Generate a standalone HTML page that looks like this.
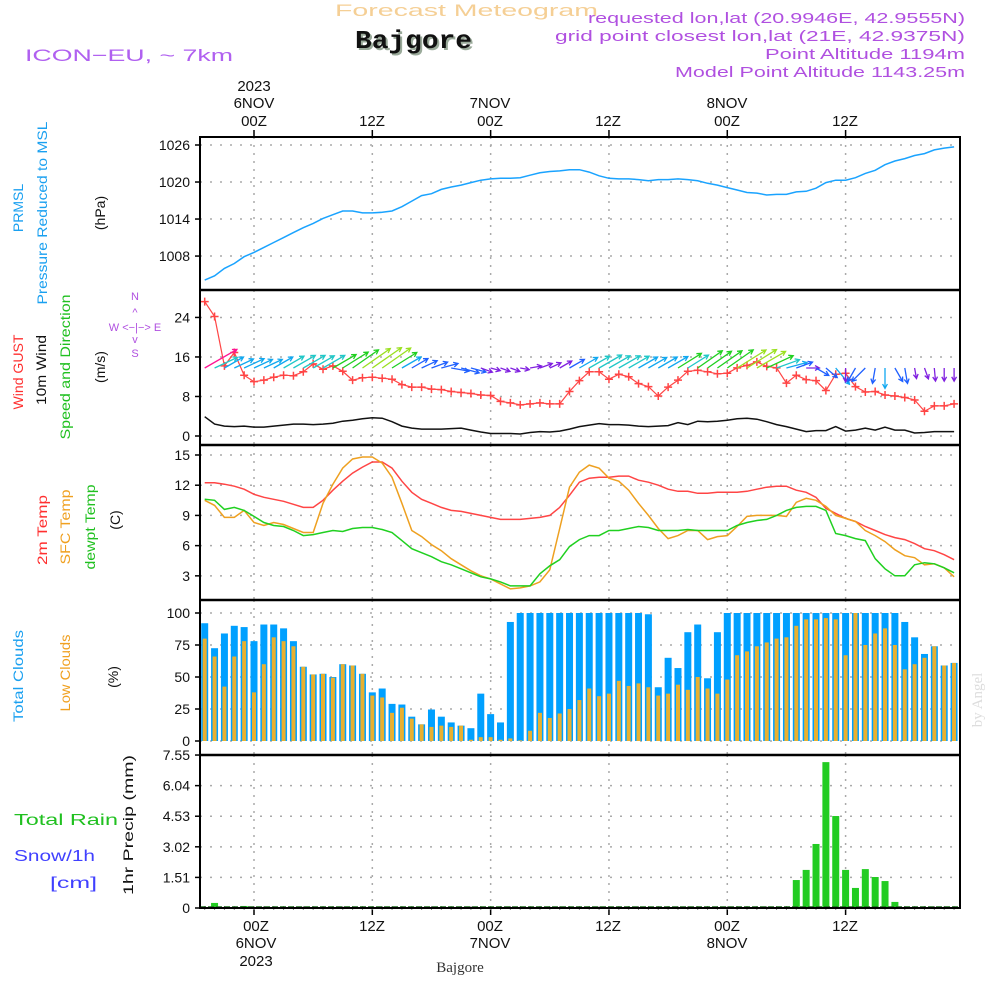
<!DOCTYPE html>
<html><head><meta charset="utf-8"><style>
html,body{margin:0;padding:0;background:#fff;}
svg{display:block;font-family:"Liberation Sans",sans-serif;}
</style></head><body>
<svg id="chart" xmlns="http://www.w3.org/2000/svg" width="1000" height="1000" viewBox="0 0 1000 1000">
<rect x="0" y="0" width="1000" height="1000" fill="#fff"/>
<text x="335" y="16" font-size="17" fill="#f5cf95" textLength="263" lengthAdjust="spacingAndGlyphs">Forecast Meteogram</text>
<text x="357" y="50" font-size="26" font-weight="bold" font-family="Liberation Mono, monospace" fill="#9aaa9a" textLength="117" lengthAdjust="spacingAndGlyphs">Bajgore</text>
<text x="355" y="48" font-size="26" font-weight="bold" font-family="Liberation Mono, monospace" fill="#111" textLength="117" lengthAdjust="spacingAndGlyphs">Bajgore</text>
<text x="25" y="61" font-size="17" fill="#b060f0" textLength="208" lengthAdjust="spacingAndGlyphs">ICON−EU, ~ 7km</text>
<text x="965" y="23" font-size="15" fill="#b050e0" text-anchor="end" textLength="377" lengthAdjust="spacingAndGlyphs">requested lon,lat (20.9946E, 42.9555N)</text>
<text x="965" y="41" font-size="15" fill="#b050e0" text-anchor="end" textLength="410" lengthAdjust="spacingAndGlyphs">grid point closest lon,lat (21E, 42.9375N)</text>
<text x="965" y="59" font-size="15" fill="#b050e0" text-anchor="end" textLength="200" lengthAdjust="spacingAndGlyphs">Point Altitude 1194m</text>
<text x="965" y="77" font-size="15" fill="#b050e0" text-anchor="end" textLength="290" lengthAdjust="spacingAndGlyphs">Model Point Altitude 1143.25m</text>

<g font-size="15" fill="#111" text-anchor="middle">
<text x="254" y="91">2023</text>
<text x="254" y="108">6NOV</text>
<text x="254" y="126">00Z</text>
<text x="372" y="126">12Z</text>
<text x="490" y="108">7NOV</text>
<text x="490" y="126">00Z</text>
<text x="608" y="126">12Z</text>
<text x="727" y="108">8NOV</text>
<text x="727" y="126">00Z</text>
<text x="845" y="126">12Z</text>
</g>
<g font-size="15" fill="#111" text-anchor="middle">
<text x="256" y="931">00Z</text>
<text x="256" y="948">6NOV</text>
<text x="256" y="966">2023</text>
<text x="372" y="931">12Z</text>
<text x="490" y="931">00Z</text>
<text x="490" y="948">7NOV</text>
<text x="608" y="931">12Z</text>
<text x="727" y="931">00Z</text>
<text x="727" y="948">8NOV</text>
<text x="845" y="931">12Z</text>
</g>
<text x="460" y="972" font-size="15" font-family="Liberation Serif, serif" fill="#333" text-anchor="middle">Bajgore</text>

<g font-size="14" text-anchor="middle">
<text transform="translate(23,208) rotate(-90)" fill="#1aa0f0">PRMSL</text>
<text transform="translate(47,213) rotate(-90)" fill="#1aa0f0" textLength="183" lengthAdjust="spacingAndGlyphs">Pressure Reduced to MSL</text>
<text transform="translate(105,213) rotate(-90)" fill="#111">(hPa)</text>
<text transform="translate(23,372) rotate(-90)" fill="#ff3030" textLength="75" lengthAdjust="spacingAndGlyphs">Wind GUST</text>
<text transform="translate(46,370) rotate(-90)" fill="#111" textLength="70" lengthAdjust="spacingAndGlyphs">10m Wind</text>
<text transform="translate(70,367) rotate(-90)" fill="#20c020" textLength="145" lengthAdjust="spacingAndGlyphs">Speed and Direction</text>
<text transform="translate(105,367) rotate(-90)" fill="#111">(m/s)</text>
<text transform="translate(47,530) rotate(-90)" fill="#ff3030" textLength="70" lengthAdjust="spacingAndGlyphs">2m Temp</text>
<text transform="translate(70,527) rotate(-90)" fill="#f0a020" textLength="75" lengthAdjust="spacingAndGlyphs">SFC Temp</text>
<text transform="translate(95,527) rotate(-90)" fill="#20c020" textLength="85" lengthAdjust="spacingAndGlyphs">dewpt Temp</text>
<text transform="translate(120,520) rotate(-90)" fill="#111">(C)</text>
<text transform="translate(23,676) rotate(-90)" fill="#1aa0f0" textLength="92" lengthAdjust="spacingAndGlyphs">Total Clouds</text>
<text transform="translate(70,673) rotate(-90)" fill="#f0a020" textLength="77" lengthAdjust="spacingAndGlyphs">Low Clouds</text>
<text transform="translate(118,677) rotate(-90)" fill="#111">(%)</text>
<text transform="translate(133,825) rotate(-90)" fill="#111" textLength="140" lengthAdjust="spacingAndGlyphs">1hr Precip (mm)</text>
</g>
<text x="14" y="825" font-size="16" fill="#20c020" textLength="104" lengthAdjust="spacingAndGlyphs">Total  Rain</text>
<text x="14" y="861" font-size="16" fill="#4040ff" textLength="81" lengthAdjust="spacingAndGlyphs">Snow/1h</text>
<text x="50" y="888" font-size="16" fill="#4040ff" textLength="47" lengthAdjust="spacingAndGlyphs">[cm]</text>
<g font-size="11" fill="#b050e0" text-anchor="middle">
<text x="135" y="300">N</text>
<text x="135" y="316">^</text>
<text x="135" y="331">W  &lt;−|−&gt;  E</text>
<text x="135" y="343">v</text>
<text x="135" y="357">S</text>
</g>
<text transform="translate(982,700) rotate(-90)" font-size="15" font-family="Liberation Serif, serif" fill="#ddd" text-anchor="middle">by Angel</text>
<g id="plot"></g>
</svg>
<script>
// hours -5 .. 71 (relative to 00Z 6NOV)
const hourStart = -5;
const pressure = [1004.1,1004.8,1006.0,1006.8,1007.9,
1008.6,1009.4,1010.2,1011.0,1011.8,1012.6,1013.3,1014.1,1014.7,1015.3,
1015.3,1015.0,1015.0,1015.1,1015.3,1016.0,1016.9,1017.8,1018.1,1018.8,
1019.2,1019.5,1019.9,1020.3,1020.5,1020.6,1020.6,1020.7,1021.1,1021.5,
1021.7,1021.8,1022.0,1022.0,1021.6,1021.0,1020.6,1020.5,1020.5,1020.4,
1020.2,1020.4,1020.4,1020.5,1020.4,1020.2,1019.8,1019.5,1019.1,1018.7,
1018.3,1018.2,1017.9,1018.0,1018.0,1018.4,1018.5,1019.0,1019.9,1020.3,
1020.3,1020.7,1021.4,1021.9,1022.8,1023.4,1023.8,1024.3,1024.6,1025.2,
1025.5,1025.7];
const wind10 = [3.9,2.4,2.0,1.9,2.0,
1.8,1.8,2.0,2.2,2.4,2.4,2.3,2.4,2.6,3.0,
3.2,3.5,3.7,3.6,2.9,2.0,1.6,1.4,1.4,1.4,
1.5,1.6,1.2,0.8,0.5,0.5,0.5,0.4,0.7,0.9,
0.8,1.0,1.4,1.9,2.2,2.5,2.3,2.3,2.2,2.0,
1.9,2.0,2.1,2.7,2.3,3.0,2.9,3.0,3.2,3.5,
3.6,3.4,2.9,2.3,1.9,1.4,0.9,1.1,1.1,1.9,
1.0,1.2,1.6,1.2,1.8,1.2,1.2,0.6,0.7,0.9,
0.9,0.9];
const gust = [27.2,24.2,14.2,16.9,12.3,
11.0,11.3,11.9,12.3,12.2,13.0,14.6,13.5,14.2,13.1,
11.3,11.8,11.9,11.7,11.5,10.4,9.9,9.9,9.5,9.4,
9.0,8.8,8.6,8.3,8.2,7.0,6.7,6.3,6.5,6.7,
6.5,6.5,9.0,11.2,13.0,13.0,11.5,12.5,12.0,10.6,
10.0,8.1,9.9,11.3,13.1,13.3,13.0,12.6,12.7,13.8,
14.3,15.0,14.1,13.8,10.7,12.3,11.4,11.2,9.2,12.5,
12.7,10.0,8.9,9.0,8.3,8.1,7.8,7.3,5.0,6.1,
6.1,6.5];
const windDir = [240,245,240,245,245,
245,245,240,240,240,240,240,240,240,238,
235,235,235,235,238,240,240,245,250,255,
280,285,285,290,285,290,290,280,260,250,
245,240,240,240,240,240,240,240,240,240,
240,240,240,238,238,235,235,235,235,238,
238,240,245,250,255,250,270,300,310,320,
0,30,45,10,0,330,350,350,340,355,
0,0];
const temp2m = [12.25,12.25,12.1,11.9,11.6,
11.1,10.8,10.6,10.4,10.1,9.8,9.8,10.5,11.5,12.4,
13.2,13.8,14.3,14.3,13.7,12.4,11.3,10.6,10.2,9.8,
9.5,9.4,9.2,9.0,8.8,8.6,8.6,8.6,8.7,8.8,
9.0,9.8,11.0,12.3,12.7,12.8,12.8,12.9,12.9,12.5,
12.3,12.0,11.6,11.4,11.4,11.2,11.2,11.3,11.3,11.3,
11.4,11.6,11.8,11.9,11.9,11.5,11.3,10.8,9.7,9.2,
8.7,8.4,7.9,7.5,7.1,6.8,6.6,6.2,5.7,5.5,
5.1,4.6];
const tempSfc = [10.5,10.0,8.8,8.8,9.5,
8.3,8.0,8.3,8.1,7.7,7.3,7.3,10.2,12.1,13.7,
14.6,14.8,14.8,14.2,12.8,10.2,7.5,6.9,6.1,5.5,
4.7,4.1,3.5,3.0,2.7,2.2,1.7,1.8,2.0,2.4,
3.6,7.7,11.8,13.3,14.0,13.7,12.7,12.4,11.5,10.2,
9.0,7.7,6.7,7.0,7.5,7.5,6.6,6.9,7.0,7.9,
8.9,9.0,9.0,9.0,8.9,10.3,10.7,10.5,9.9,9.0,
8.7,8.4,7.5,7.0,6.4,5.6,5.0,4.8,4.1,4.2,
3.8,2.9];
const dewpt = [10.6,10.5,9.6,9.8,9.5,
8.9,8.3,8.0,7.9,7.5,7.0,7.1,7.3,7.5,7.4,
7.7,7.8,7.8,7.6,7.3,6.5,5.7,5.3,4.9,4.4,
4.1,3.7,3.3,2.9,2.7,2.4,2.0,2.0,2.0,3.2,
4.0,4.6,5.9,6.6,7.0,7.0,7.5,7.5,7.7,7.9,
7.8,7.5,7.5,7.5,7.6,7.5,7.5,7.5,7.5,8.0,
8.3,8.5,8.6,9.0,9.5,9.8,9.9,9.9,9.5,7.2,
7.0,6.7,6.5,4.7,3.7,3.0,3.0,4.1,4.3,4.2,
3.8,3.3];
const totalClouds = [92,72.5,84,90,89,
78,91,91,88,78,58,52,52.5,50,60,
59,52.5,38,41,29,28.5,19,13,24.6,19,
14.5,12,10,37,21,14.5,93,100,100,100,
100,100,100,100,100,100,100,100,100,100,
99,42,65,57,85,91,49,85,100,100,
100,100,100,100,100,100,100,100,100,100,
100,100,100,100,100,100,93,81,68,74,
59,61];
const lowClouds = [80,66,42.5,66,78,
38,60,81,78,74,58,52,52.5,49.5,60,
59,52.5,35.5,34,22,26,17.5,13,11,12,
11,12,1,3,3,1,2,0.5,8,22,
18,21.5,25,32,41,35,37,47,43,45,
42,35.5,37,44,40,50,41,37,48,67,
70,74,77,80,81,90,95,95,96,95,
67,100,75,84,88,75,56,60,65,74,
59,61];
// h-5..h-1
const precip = [0,0.25,0,0,0.1,
// h0..h49
0,0,0,0,0,0,0,0,0,0,
0,0,0,0,0,0,0,0,0,0,
0,0,0,0,0,0,0,0,0,0,
0,0,0,0,0,0,0,0,0,0,
0,0,0,0,0,0,0,0,0,0,
// h50..h54
0,0,0,0,0,
// h55..h65
1.38,1.88,3.16,7.2,4.54,1.88,0.99,1.92,1.53,1.33,0.3,
// h66..h71
0,0,0,0,0,0];
const pressureTicks = [1026,1020,1014,1008];
const windTicks = [24,16,8,0];
const tempTicks = [15,12,9,6,3];
const cloudTicks = [100,75,50,25,0];
const precipTicks = [7.55,6.04,4.53,3.02,1.51,0];
const gridHours = [0,12,24,36,48,60];

const NS = 'http://www.w3.org/2000/svg';
const plot = document.getElementById('plot');
function mk(tag, attrs, parent){
  const e = document.createElementNS(NS, tag);
  for (const k in attrs) e.setAttribute(k, attrs[k]);
  (parent || plot).appendChild(e);
  return e;
}
const X0 = 200, X1 = 960;
function xH(h){ return 254 + 9.86 * h; }
function yP(p){ return 145 + (1026 - p) * 6.17; }
function yW(v){ return 436 - 4.94 * v; }
function yT(t){ return 455 + (15 - t) * 10.07; }
function yC(c){ return 741 - c * 1.28; }
function yR(r){ return 908 - r * 20.26; }
function hourOf(i){ return hourStart + i; }

const panels = [
  {name:'pressure', top:137, bot:290, ticks:pressureTicks, y:yP},
  {name:'wind', top:290, bot:445, ticks:windTicks, y:yW},
  {name:'temperature', top:445, bot:600, ticks:tempTicks, y:yT},
  {name:'clouds', top:600, bot:755, ticks:cloudTicks, y:yC},
  {name:'precip', top:755, bot:908, ticks:precipTicks, y:yR}
];
const defs = mk('defs', {});
const cp = mk('clipPath', {id:'clipPlot'}, defs);
mk('rect', {x:X0, y:137, width:X1-X0, height:771}, cp);

panels.forEach(p => {
  p.ticks.forEach(t => {
    const yy = p.y(t);
    const g = mk('line', {x1:X0, x2:X1, y1:yy, y2:yy, stroke:'#aaa', 'stroke-width':1.5, 'stroke-dasharray':'2,8'});
    
    
    const tk = mk('line', {x1:X0-5, x2:X0, y1:yy, y2:yy, stroke:'#000', 'stroke-width':1.5});
    
    
    const lb = mk('text', {x:190, y:yy+5, 'font-size':14, 'text-anchor':'end', fill:'#111'});
    lb.textContent = String(t);
    
    
  });
  gridHours.forEach(h => {
    const xx = xH(h);
    const v = mk('line', {x1:xx, x2:xx, y1:p.top, y2:p.bot, stroke:'#aaa', 'stroke-width':1.5, 'stroke-dasharray':'2,6'});
    
    
  });
});
gridHours.forEach(h => {
  const t1 = mk('line', {x1:xH(h), x2:xH(h), y1:130, y2:137, stroke:'#000', 'stroke-width':1.5});
  
  
  const t2 = mk('line', {x1:xH(h), x2:xH(h), y1:908, y2:915, stroke:'#000', 'stroke-width':1.5});
  
  
});
for (let i = 0; i < precip.length; i++) {
  const xx = xH(hourOf(i));
  const mt = mk('line', {x1:xx, x2:xx, y1:906, y2:910, stroke:'#888', 'stroke-width':1});
  
  
}

const dataG = mk('g', {'clip-path':'url(#clipPlot)'});



function linePath(arr, yf){
  return arr.map((v,i) => (i ? 'L' : 'M') + xH(hourOf(i)).toFixed(1) + ',' + yf(v).toFixed(1)).join(' ');
}
const pl = mk('path', {d:linePath(pressure, yP), fill:'none', stroke:'#1aa3ff', 'stroke-width':1.5}, dataG);



const wl = mk('path', {d:linePath(wind10, yW), fill:'none', stroke:'#111', 'stroke-width':1.5}, dataG);


const gl = mk('path', {d:linePath(gust, yW), fill:'none', stroke:'#ff4545', 'stroke-width':1.2}, dataG);


gust.forEach((v,i) => {
  const cx = xH(hourOf(i)), cy = yW(v);
  const m = mk('path', {d:`M${cx-4},${cy}H${cx+4}M${cx},${cy-4}V${cy+4}`, stroke:'#ff4545', 'stroke-width':1.5}, dataG);
  
  
});
function arrowColor(v){
  if (v >= 3.85) return '#ff1493';
  if (v >= 3.3) return '#9be020';
  if (v >= 2.6) return '#20d020';
  if (v >= 2.2) return '#20c8c8';
  if (v >= 1.8) return '#10a8f0';
  if (v >= 1.1) return '#2060ff';
  return '#8020e0';
}
windDir.forEach((d,i) => {
  const v = wind10[i];
  const L = 6 + 8 * v;
  const toB = (d + 180) * Math.PI / 180;
  const ux = Math.sin(toB), uy = -Math.cos(toB);
  const tx = xH(hourOf(i)), ty = 368;
  const hx = tx + ux * L, hy = ty + uy * L;
  const a1 = Math.atan2(uy, ux);
  const hl = 5;
  const p1x = hx - hl * Math.cos(a1 - 0.5), p1y = hy - hl * Math.sin(a1 - 0.5);
  const p2x = hx - hl * Math.cos(a1 + 0.5), p2y = hy - hl * Math.sin(a1 + 0.5);
  const col = arrowColor(v);
  const ar = mk('path', {d:`M${tx.toFixed(1)},${ty}L${hx.toFixed(1)},${hy.toFixed(1)}M${p1x.toFixed(1)},${p1y.toFixed(1)}L${hx.toFixed(1)},${hy.toFixed(1)}L${p2x.toFixed(1)},${p2y.toFixed(1)}`, stroke:col, 'stroke-width':1.3, fill:'none'}, dataG);
  
  
});

const tr = mk('path', {d:linePath(temp2m, yT), fill:'none', stroke:'#ff4545', 'stroke-width':1.5}, dataG);


const ts = mk('path', {d:linePath(tempSfc, yT), fill:'none', stroke:'#eea020', 'stroke-width':1.5}, dataG);


const td = mk('path', {d:linePath(dewpt, yT), fill:'none', stroke:'#20d020', 'stroke-width':1.5}, dataG);



totalClouds.forEach((v,i) => {
  const cx = xH(hourOf(i));
  const b = mk('rect', {x:cx-3.5, y:yC(v), width:7, height:yC(0)-yC(v), fill:'#00a0ff'}, dataG);
  
  
});
lowClouds.forEach((v,i) => {
  const cx = xH(hourOf(i));
  const b = mk('rect', {x:cx-2, y:yC(v), width:4, height:yC(0)-yC(v), fill:'#e8b030'}, dataG);
  
  
});
precip.forEach((v,i) => {
  if (v <= 0) return;
  const cx = xH(hourOf(i));
  const b = mk('rect', {x:cx-3.5, y:yR(v), width:7, height:yR(0)-yR(v), fill:'#22cc22'}, dataG);
  
  
});
const pb = mk('line', {x1:X0, x2:X1, y1:907, y2:907, stroke:'#1a6a1a', 'stroke-width':1.5, 'stroke-dasharray':'6,2'});



[290,445,600,755].forEach(yy => {
  const s = mk('line', {x1:X0, x2:X1, y1:yy, y2:yy, stroke:'#000', 'stroke-width':2.5});
  
  
});
const fr = mk('rect', {x:X0, y:137, width:X1-X0, height:771, fill:'none', stroke:'#000', 'stroke-width':2});


</script>
</body></html>
